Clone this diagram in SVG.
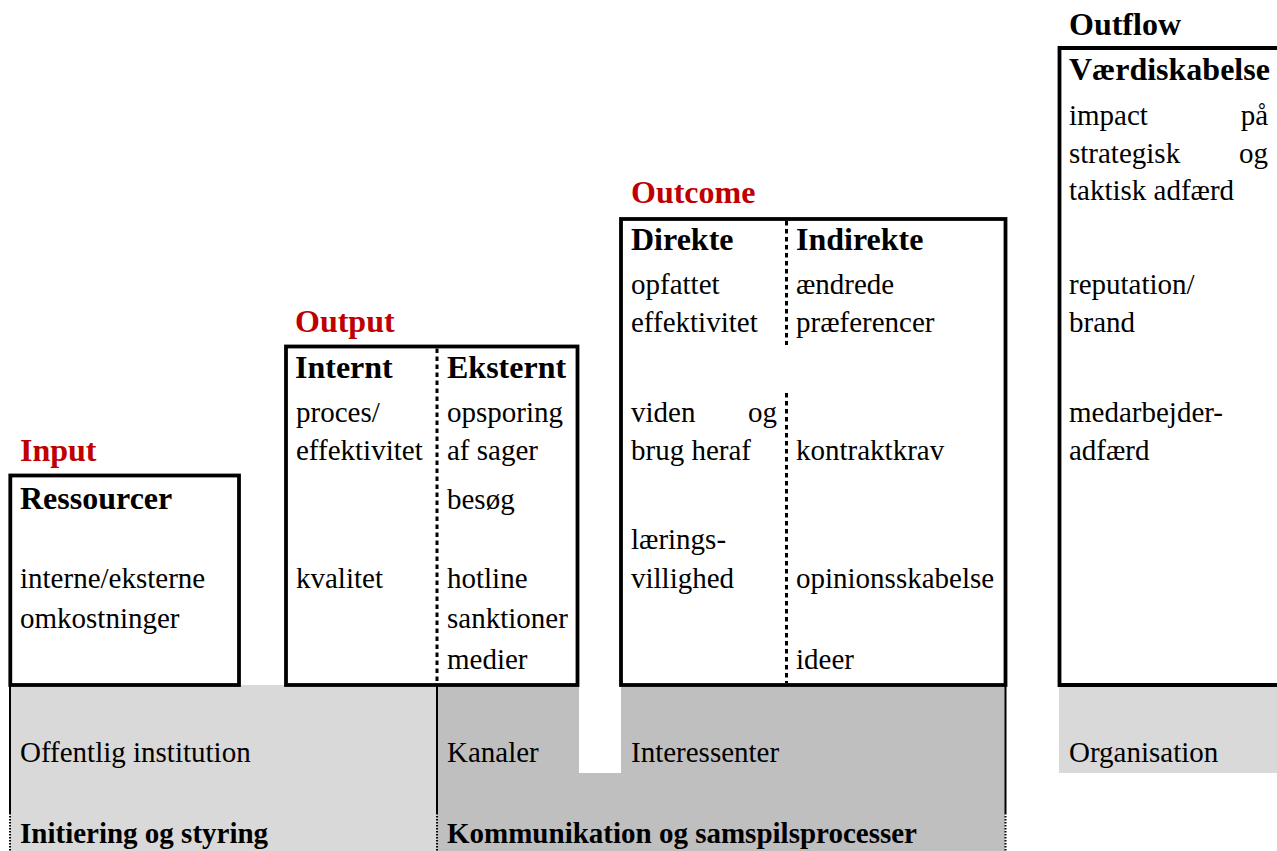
<svg xmlns="http://www.w3.org/2000/svg" width="1277" height="851" viewBox="0 0 1277 851">
<style>
text{font-family:"Liberation Serif","Times New Roman",serif;fill:#000}
.r{font-size:29px}
.h{font-size:32px;font-weight:bold}
.b{font-size:29px;font-weight:bold}
.red{fill:#c00000}
.box{fill:#fff;stroke:#000;stroke-width:3.8}
.div{stroke:#000;stroke-width:3;stroke-dasharray:4.5 3.5;fill:none}
.vl{stroke:#000;stroke-width:2;fill:none}
.vd{stroke:#000;stroke-width:2;stroke-dasharray:1.5 1.5;fill:none}
</style>
<rect width="1277" height="851" fill="#fff"/>
<g id="background">
<rect x="10" y="685" width="427" height="166" fill="#d9d9d9"/>
<rect x="437" y="685" width="568" height="166" fill="#bfbfbf"/>
<rect x="579" y="685" width="42" height="88" fill="#fff"/>
<rect x="1059" y="685" width="218" height="88" fill="#d9d9d9"/>
</g>
<g id="connectors">
<path class="vl" d="M10,685V813"/>
<path class="vd" d="M10,813V851"/>
<path class="vl" d="M437,685V813"/>
<path class="vd" d="M437,813V851"/>
<path class="vl" d="M1005.5,685V813"/>
<path class="vd" d="M1005.5,813V851"/>
</g>
<g id="input">
<text class="h red" x="20" y="461">Input</text>
<rect class="box" x="10.3" y="475.5" width="228.7" height="209.5"/>
<text class="h" x="20" y="509">Ressourcer</text>
<text class="r" x="20" y="588">interne/eksterne</text>
<text class="r" x="20" y="628">omkostninger</text>
</g>
<g id="output">
<text class="h red" x="295" y="332">Output</text>
<rect class="box" x="286" y="346.5" width="291.5" height="338.5"/>
<path class="div" d="M437,348.5V683"/>
<text class="h" x="295" y="378">Internt</text>
<text class="h" x="447" y="378">Eksternt</text>
<text class="r" x="296" y="422">proces/</text>
<text class="r" x="296" y="460">effektivitet</text>
<text class="r" x="296" y="588">kvalitet</text>
<text class="r" x="447" y="422">opsporing</text>
<text class="r" x="447" y="460">af sager</text>
<text class="r" x="447" y="509">besøg</text>
<text class="r" x="447" y="588">hotline</text>
<text class="r" x="447" y="628">sanktioner</text>
<text class="r" x="447" y="669">medier</text>
</g>
<g id="outcome">
<text class="h red" x="631" y="203">Outcome</text>
<rect class="box" x="621" y="219" width="384.5" height="466"/>
<path class="div" d="M786.5,221V345M786.5,393V683"/>
<text class="h" x="631" y="250">Direkte</text>
<text class="h" x="796" y="250">Indirekte</text>
<text class="r" x="631" y="294">opfattet</text>
<text class="r" x="631" y="332">effektivitet</text>
<text class="r" x="631" y="422">viden</text>
<text class="r" x="777" y="422" text-anchor="end">og</text>
<text class="r" x="631" y="460">brug heraf</text>
<text class="r" x="631" y="549">lærings-</text>
<text class="r" x="631" y="588">villighed</text>
<text class="r" x="796" y="294">ændrede</text>
<text class="r" x="796" y="332">præferencer</text>
<text class="r" x="796" y="460">kontraktkrav</text>
<text class="r" x="796" y="588">opinionsskabelse</text>
<text class="r" x="796" y="669">ideer</text>
</g>
<g id="outflow">
<text class="h" x="1069" y="35">Outflow</text>
<path d="M1280,48H1059.5V685H1280" fill="#fff" stroke="#000" stroke-width="3.8"/>
<text class="h" x="1069" y="80">Værdiskabelse</text>
<text class="r" x="1069" y="125">impact</text>
<text class="r" x="1268" y="125" text-anchor="end">på</text>
<text class="r" x="1069" y="163">strategisk</text>
<text class="r" x="1268" y="163" text-anchor="end">og</text>
<text class="r" x="1069" y="200">taktisk adfærd</text>
<text class="r" x="1069" y="294">reputation/</text>
<text class="r" x="1069" y="332">brand</text>
<text class="r" x="1069" y="422">medarbejder-</text>
<text class="r" x="1069" y="460">adfærd</text>
</g>
<g id="bottom-labels">
<text class="r" x="20" y="762">Offentlig institution</text>
<text class="r" x="447" y="762">Kanaler</text>
<text class="r" x="631" y="762">Interessenter</text>
<text class="r" x="1069" y="762">Organisation</text>
<text class="b" x="20" y="843">Initiering og styring</text>
<text class="b" x="447" y="843">Kommunikation og samspilsprocesser</text>
</g>
</svg>
